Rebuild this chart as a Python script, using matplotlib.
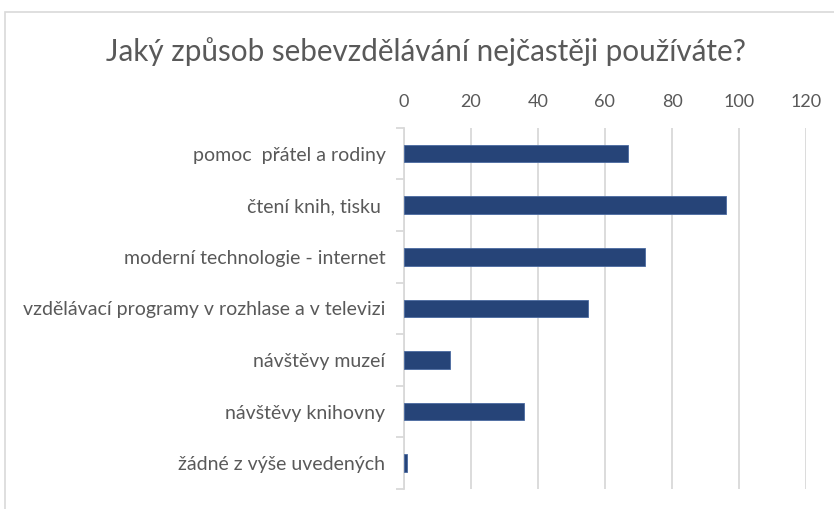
import matplotlib.pyplot as plt
from matplotlib.patches import Rectangle

# data (top to bottom)
categories = [
    "pomoc  přátel a rodiny",
    "čtení knih, tisku ",
    "moderní technologie - internet",
    "vzdělávací programy v rozhlase a v televizi",
    "návštěvy muzeí",
    "návštěvy knihovny",
    "žádné z výše uvedených",
]
values = [67, 96, 72, 55, 14, 36, 1]
xticks = [0, 20, 40, 60, 80, 100, 120]

plt.rcParams['font.family'] = ['Lato', 'DejaVu Sans']

fig = plt.figure(figsize=(8.34, 5.09), dpi=100)
ax = fig.add_axes([403.5 / 834, 1 - 489 / 509, (806.3 - 403.5) / 834, (489 - 127.7) / 509])

# chart border
fig.patches.append(Rectangle((5 / 834, -0.1), 1.0, 1 - 12 / 509 + 0.1,
                             transform=fig.transFigure, fill=False,
                             edgecolor='#d9d9d9', linewidth=1.2))

pos = list(range(len(categories)))
ax.barh(pos, values, height=0.34, color='#264478', edgecolor='#4a6aa0',
        linewidth=0.6, zorder=3)

ax.set_xlim(0, 120)
ax.set_ylim(len(categories) - 0.5, -0.5)
ax.set_xticks(xticks)
ax.xaxis.tick_top()
ax.tick_params(axis='x', length=0, labelsize=13, labelcolor='#595959', pad=13)
ax.grid(axis='x', color='#d9d9d9', linewidth=1.3, zorder=0)

ax.set_yticks([p + 0.5 for p in [-1] + pos], minor=False)
ax.set_yticklabels([])
ax.set_yticks(pos, minor=True)
ax.set_yticklabels(categories, minor=True)
ax.tick_params(axis='y', which='major', length=6, color='#d9d9d9', width=1.3)
ax.tick_params(axis='y', which='minor', length=0, labelsize=14,
               labelcolor='#595959', pad=13)

for s in ['top', 'right', 'bottom']:
    ax.spines[s].set_visible(False)
ax.spines['left'].set_color('#d9d9d9')
ax.spines['left'].set_linewidth(1.3)

fig.text(426 / 834, 1 - 52 / 509, "Jaký způsob sebevzdělávání nejčastěji používáte?",
         ha='center', va='center', fontsize=21.3, color='#595959')

plt.savefig("out.png", dpi=100)
